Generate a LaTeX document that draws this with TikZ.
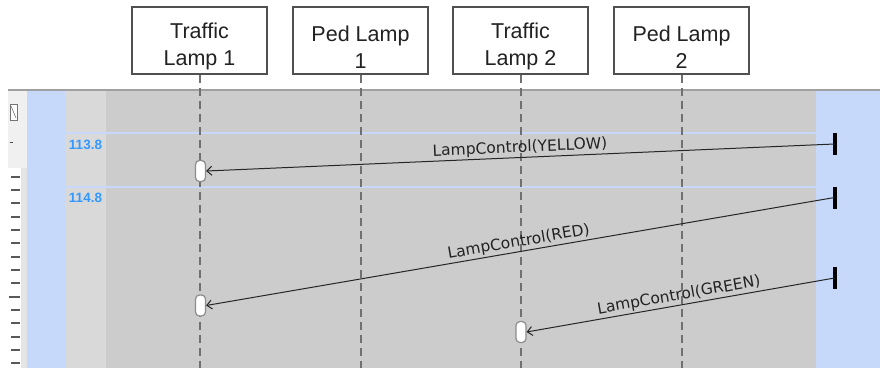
\documentclass[tikz,border=0pt]{standalone}
\usepackage{fontspec}
\setmainfont{Liberation Sans}
\newfontfamily\msgfont{DejaVu Sans}
\usetikzlibrary{arrows.meta}
\definecolor{seqink}{HTML}{222222}
\definecolor{seqedge}{HTML}{505050}
\definecolor{seqlife}{HTML}{707070}
\definecolor{seqgray}{HTML}{CCCCCC}
\definecolor{seqcol}{HTML}{D9D9D9}
\definecolor{seqblue}{HTML}{C6D9FA}
\definecolor{seqtime}{HTML}{3399FF}
\definecolor{seqrule}{HTML}{A0A0A0}
\definecolor{seqside}{HTML}{F0F0F0}
\newcommand{\hdtop}{\rule{0pt}{28pt}}
\tikzset{
  head/.style={draw=seqedge, line width=1.5pt, fill=white, align=center, text=seqink,
    minimum width=135pt, minimum height=67pt, inner sep=0pt, font=\fontsize{21.5}{27}\selectfont},
  life/.style={draw=seqlife, line width=2pt, dash pattern=on 8pt off 5pt},
  act/.style={draw=black!45, fill=white, line width=1.2pt, rounded corners=4pt,
    minimum width=10pt, minimum height=21pt, inner sep=0pt},
  src/.style={fill=black, minimum width=4pt, minimum height=22pt, inner sep=0pt},
  msg/.style={-{Straight Barb[length=5pt,width=9pt]}, line width=1pt, color=black!85},
  lbl/.style={font=\msgfont\fontsize{15.5}{17}\selectfont, text=seqink, inner sep=1.5pt},
  tstamp/.style={font=\bfseries\fontsize{13.5}{14}\selectfont, text=seqtime},
  tick/.style={draw=black!65, line width=1.8pt},
}
\begin{document}
\begin{tikzpicture}[x=1pt,y=-1pt]
  \useasboundingbox (0,0) rectangle (880,368);
  % panel background
  \fill[seqside] (8,91) rectangle (27,168);
  \fill[white] (8,168) rectangle (21,368);
  \fill[black!10] (21,168) rectangle (27,368);
  \fill[seqblue] (27,91) rectangle (65,368);
  \fill[seqcol] (65,91) rectangle (106,368);
  \fill[seqgray] (106,91) rectangle (816,368);
  \fill[seqblue] (816,91) rectangle (880,368);
  \draw[seqrule, line width=2.5pt] (8,90) -- (880,90);
  \draw[black!55, line width=0.8pt, fill=white] (10,104) rectangle (17,120);
  \draw[black!55, line width=0.6pt] (11,106) -- (16,118);
  \draw[black!70, line width=1pt] (9.5,142) -- (13,142);
  \foreach \k in {0,...,14}
    { \draw[tick] (11,176.7+13.33*\k) -- (20,176.7+13.33*\k); }
  \draw[tick] (8.5,296.7) -- (20,296.7);
  \draw[seqblue, line width=2.2pt] (65,133.3) -- (816,133.3);
  \draw[seqblue, line width=2.2pt] (65,186.7) -- (816,186.7);
  \node[tstamp] (t1) at (85.5,145) {113.8};
  \node[tstamp] (t2) at (85.5,198) {114.8};
  % lifelines
  \foreach \nm/\x/\tx in {tl1/199.5/{Traffic\\Lamp 1}, pl1/360.5/{Ped Lamp\\1},
                          tl2/520.5/{Traffic\\Lamp 2}, pl2/681.5/{Ped Lamp\\2}}
  {
    \node[head] (\nm) at (\x,40.5) {\hdtop\tx};
    \coordinate (\nm-end) at (\x,368);
    \draw[life] (\nm.south) -- (\nm-end);
  }
  % senders and receivers
  \node[src] (s1) at (834.5,144) {};
  \node[src] (s2) at (834.5,197.5) {};
  \node[src] (s3) at (834.5,278) {};
  \node[act] (a1) at (200.5,171) {};
  \node[act] (a2) at (200.5,305.5) {};
  \node[act] (a3) at (521,332) {};
  \draw[msg] (s1.center) -- node[above, sloped, lbl] {LampControl(YELLOW)} (a1.east);
  \draw[msg] (s2.center) -- node[above, sloped, lbl] {LampControl(RED)} (a2.east);
  \draw[msg] (s3.center) -- node[above, sloped, lbl] {LampControl(GREEN)} (a3.east);
\end{tikzpicture}
\end{document}
